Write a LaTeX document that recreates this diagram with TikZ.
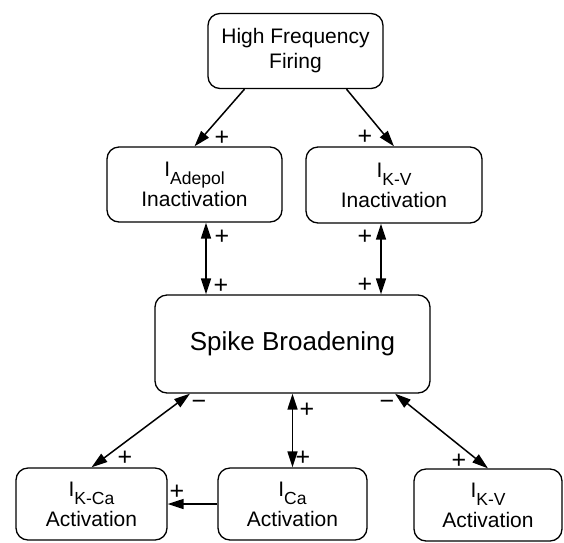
\documentclass[tikz,border=0pt]{standalone}
\usepackage{fontspec}
\setmainfont{Liberation Sans}
\usetikzlibrary{calc,arrows.meta}
\newcommand{\cur}[1]{I\raisebox{-8pt}{\fontsize{17.5}{17.5}\selectfont #1}}
\tikzset{
	box/.style={draw, line width=1.3pt, rounded corners=12pt, align=center, inner sep=0pt, font=\fontsize{21}{30}\selectfont},
	link/.style={line width=1.5pt, -{Triangle[length=16pt,width=10pt]}},
	twolink/.style={line width=1.5pt, {Triangle[length=16pt,width=10pt]}-{Triangle[length=16pt,width=10pt]}},
	sign/.style={inner sep=0pt, font=\fontsize{25}{25}\selectfont},
}

\begin{document}
\begin{tikzpicture}[x=1pt, y=-1pt]
		%%%%% START %%%%%
		\useasboundingbox (0, 0) rectangle (564, 542);
		
		\node[box, minimum width=175pt, minimum height=75pt, font=\fontsize{21}{25}\selectfont] (fire) at (295.5, 51) {High Frequency\\Firing};
		
		\node[box, minimum width=175pt, minimum height=75pt] (adepol) at (194.5, 184.5) {\cur{Adepol}\\Inactivation};
		\node[box, minimum width=176pt, minimum height=76pt] (kvin) at (394, 185) {\cur{K-V}\\Inactivation};
		
		\node[box, minimum width=275pt, minimum height=98pt, font=\fontsize{26}{30}\selectfont] (spike) at (292.5, 344) {Spike Broadening};
		
		\node[box, minimum width=151pt, minimum height=72pt] (kca) at (91.5, 504) {\cur{K-Ca}\\Activation};
		\node[box, minimum width=149pt, minimum height=72pt] (ca) at (292.5, 504) {\cur{Ca}\\Activation};
		\node[box, minimum width=148pt, minimum height=72pt] (kva) at (488, 505) {\cur{K-V}\\Activation};
		
		\draw[link] ($(fire.south)+(-51, 0)$) -- (adepol.north);
		\draw[link] ($(fire.south)+(51, 0)$) -- (kvin.north);
		
		\draw[twolink] ($(adepol.south)+(11.5, 0)$) coordinate (a1) -- (a1 |- spike.north);
		\draw[twolink] ($(kvin.south)+(-13, 0)$) coordinate (a2) -- (a2 |- spike.north);
		
		\draw[twolink] ($(spike.south)+(-102.5, 0)$) -- (kca.north);
		\draw[twolink] (spike.south) -- (spike.south |- ca.north);
		\draw[twolink] ($(spike.south)+(102.5, 0)$) -- (kva.north);
		
		\draw[link] (ca.west) -- (kca.east);
		
		\node[sign] (p1) at (222, 138) {+};
		\node[sign] (p2) at (365, 137) {+};
		\node[sign] (p3) at (222, 237) {+};
		\node[sign] (p4) at (221, 286) {+};
		\node[sign] (p5) at (365, 237) {+};
		\node[sign] (p6) at (365, 285) {+};
		\node[sign] (m1) at (199, 405) {−};
		\node[sign] (m2) at (387, 405) {−};
		\node[sign] (p7) at (307, 410) {+};
		\node[sign] (p8) at (303, 458) {+};
		\node[sign] (p9) at (125, 458) {+};
		\node[sign] (p10) at (459, 461) {+};
		\node[sign] (p11) at (177, 492) {+};
		
		%%%%% END %%%%%
\end{tikzpicture}
\end{document}
